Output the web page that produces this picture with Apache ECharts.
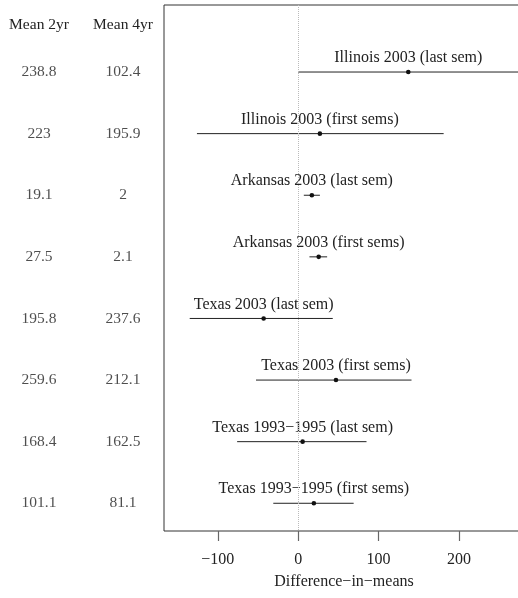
<!DOCTYPE html>
<html><head><meta charset="utf-8">
<script src="https://cdn.jsdelivr.net/npm/echarts@6/dist/echarts.min.js"></script>
<style>html,body{margin:0;padding:0;background:#fff}#c{width:518px;height:598px}</style>
</head><body><div id="c"></div>
<script>
const labels = ["Illinois 2003 (last sem)","Illinois 2003 (first sems)","Arkansas 2003 (last sem)","Arkansas 2003 (first sems)","Texas 2003 (last sem)","Texas 2003 (first sems)","Texas 1993\u22121995 (last sem)","Texas 1993\u22121995 (first sems)"];
const estimate = [137, 27, 17, 25.5, -43, 47, 5.5, 19.5];
const lower = [0, -126, 7, 14, -135, -52.5, -76, -31];
const upper = [274, 181, 27, 36, 43, 141, 85, 69];
const mean2yr = ["238.8","223","19.1","27.5","195.8","259.6","168.4","101.1"];
const mean4yr = ["102.4","195.9","2","2.1","237.6","212.1","162.5","81.1"];
const colHeaders = ["Mean 2yr","Mean 4yr"];
const xTicks = [-100, 0, 100, 200];
const xTitle = "Difference\u2212in\u2212means";

const FONT = "Liberation Serif";
const TXT = "#222";
const fmt = v => v < 0 ? "\u2212" + Math.abs(v) : String(v);

const rows = labels.map((l, i) => [lower[i], upper[i], estimate[i], i, l]);
const colData = [];
mean2yr.forEach((v, i) => colData.push([0, i, v]));
mean4yr.forEach((v, i) => colData.push([1, i, v]));

const chart = echarts.init(document.getElementById('c'), null, {renderer: 'canvas'});
chart.setOption({
  backgroundColor: '#fff',
  animation: false,
  grid: [
    {left: 164, width: 360, top: 5, bottom: 67, show: true, borderColor: '#333', borderWidth: 1, backgroundColor: 'transparent', outerBoundsMode: 'none', containLabel: false},
    {left: -3, width: 168, top: 5, bottom: 67, outerBoundsMode: 'none', containLabel: false}
  ],
  xAxis: [
    {type: 'value', gridIndex: 0, min: -167, max: 281, position: 'bottom',
     splitLine: {show: false}, axisLine: {show: false, onZero: false},
     axisTick: {show: true, length: 10, customValues: xTicks, lineStyle: {color: '#666', width: 1.2}},
     axisLabel: {customValues: xTicks, formatter: fmt, margin: 21, fontFamily: FONT, fontSize: 16, color: TXT},
     name: xTitle, nameLocation: 'middle', nameGap: 43,
     nameTextStyle: {fontFamily: FONT, fontSize: 16, color: TXT}},
    {type: 'category', gridIndex: 1, data: colHeaders, position: 'top',
     axisLine: {show: false, onZero: false}, axisTick: {show: false}, splitLine: {show: false},
     axisLabel: {inside: true, margin: 12, fontFamily: FONT, fontSize: 15.5, color: TXT, verticalAlign: 'top'}}
  ],
  yAxis: [
    {type: 'value', gridIndex: 0, inverse: true, min: -1.088, max: 7.45, show: false},
    {type: 'value', gridIndex: 1, inverse: true, min: -1.088, max: 7.45, show: false}
  ],
  series: [
    {type: 'custom', xAxisIndex: 0, yAxisIndex: 0, data: rows, clip: true,
     renderItem: function (params, api) {
       const a = api.coord([api.value(0), api.value(3)]);
       const b = api.coord([api.value(1), api.value(3)]);
       const p = api.coord([api.value(2), api.value(3)]);
       const lab = rows[params.dataIndex][4];
       return {type: 'group', children: [
         {type: 'line', shape: {x1: a[0], y1: a[1], x2: b[0], y2: b[1]}, style: {stroke: '#222', lineWidth: 1}},
         {type: 'circle', shape: {cx: p[0], cy: p[1], r: 2.3}, style: {fill: '#111'}},
         {type: 'text', x: p[0], y: p[1] - 14, style: {text: lab, font: '16px "' + FONT + '"', fill: TXT, align: 'center', verticalAlign: 'middle'}}
       ]};
     },
     markLine: {silent: true, symbol: 'none', label: {show: false},
       lineStyle: {color: '#bbb', type: 'dotted', width: 1}, data: [{xAxis: 0}]}
    },
    {type: 'scatter', xAxisIndex: 1, yAxisIndex: 1, data: colData, symbolSize: 0,
     label: {show: true, position: 'inside', formatter: p => p.data[2], fontFamily: FONT, fontSize: 15.5, color: TXT}}
  ]
});
</script></body></html>
